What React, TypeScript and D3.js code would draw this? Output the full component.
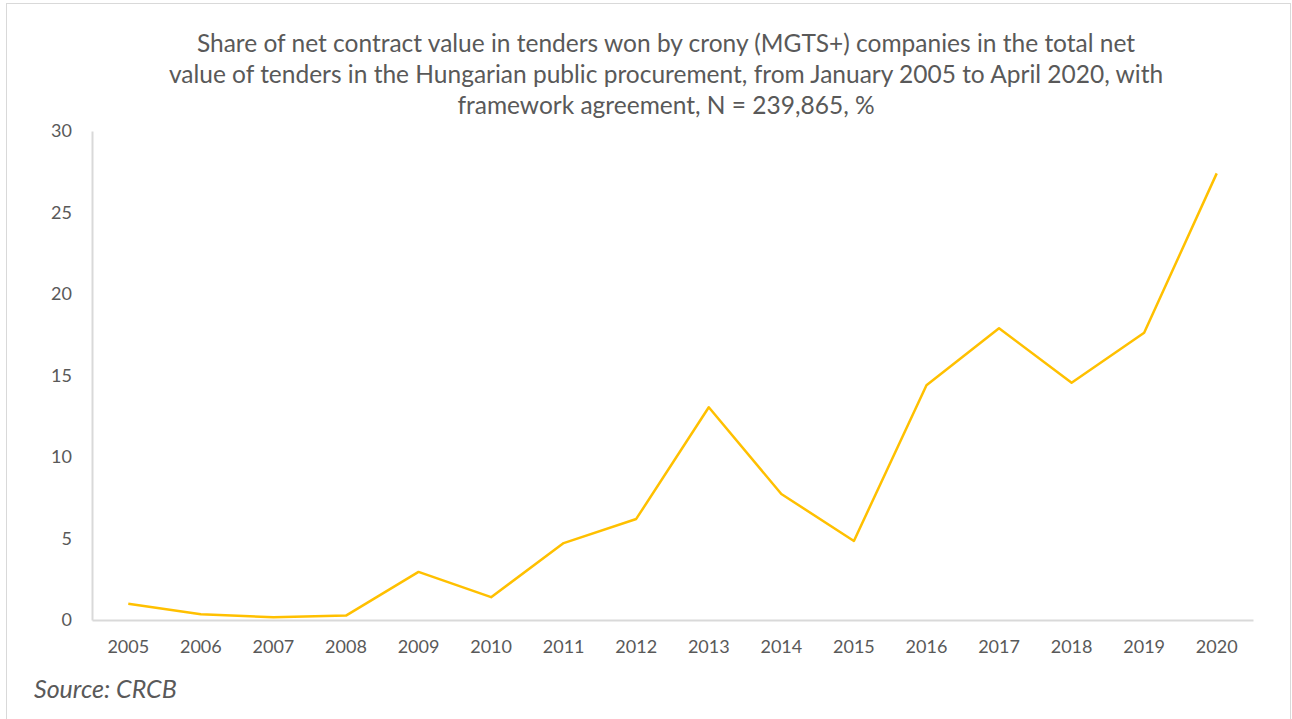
import React, { useEffect, useRef } from "react";
import * as d3 from "d3";

const years = ["2005", "2006", "2007", "2008", "2009", "2010", "2011", "2012", "2013", "2014", "2015", "2016", "2017", "2018", "2019", "2020"];
const shares = [1.0, 0.35, 0.17, 0.27, 2.95, 1.4, 4.72, 6.2, 13.05, 7.73, 4.85, 14.4, 17.9, 14.55, 17.62, 27.4];
const yTicks = [0, 5, 10, 15, 20, 25, 30];
const titleLines = [
  "Share of net contract value in tenders won by crony (MGTS+) companies in the total net",
  "value of tenders in the Hungarian public procurement, from January 2005 to April 2020, with",
  "framework agreement, N = 239,865, %",
];

const FONT = "Lato, 'Open Sans', sans-serif";

function App() {
  const ref = useRef<SVGSVGElement | null>(null);

  useEffect(() => {
    const svg = d3.select(ref.current);
    svg.selectAll("*").remove();

    const width = 1292, height = 719;
    const margin = { top: 131, right: 39, bottom: 99, left: 92 };
    const innerW = width - margin.left - margin.right;
    const innerH = height - margin.top - margin.bottom;

    svg.append("rect")
      .attr("x", 6.5).attr("y", 3.5)
      .attr("width", 1284).attr("height", 720)
      .attr("fill", "#fff").attr("stroke", "#d9d9d9");

    svg.append("text")
      .attr("text-anchor", "middle")
      .attr("font-family", FONT)
      .attr("font-size", 24.5)
      .attr("fill", "#595959")
      .selectAll("tspan")
      .data(titleLines)
      .enter()
      .append("tspan")
      .attr("x", 666)
      .attr("y", (d, i) => 52 + i * 31)
      .text((d) => d);

    const g = svg.append("g").attr("transform", `translate(${margin.left},${margin.top})`);

    const x = d3.scaleBand().domain(years).range([0, innerW]);
    const y = d3.scaleLinear().domain([0, 30]).range([innerH, 0]);

    // axes
    const xAxis = g.append("g")
      .attr("transform", `translate(0,${innerH})`)
      .call(d3.axisBottom(x).tickSize(0).tickPadding(20));
    xAxis.select(".domain").attr("stroke", "#d9d9d9").attr("stroke-width", 2);
    xAxis.selectAll("text")
      .attr("font-family", FONT).attr("font-size", 18).attr("fill", "#595959");

    const yAxis = g.append("g")
      .call(d3.axisLeft(y).tickValues(yTicks).tickSize(0).tickPadding(20));
    yAxis.select(".domain").attr("stroke", "#d9d9d9").attr("stroke-width", 2);
    yAxis.selectAll("text")
      .attr("font-family", FONT).attr("font-size", 18).attr("fill", "#595959");

    const line = d3.line<number>()
      .x((d, i) => (x(years[i]) as number) + x.bandwidth() / 2)
      .y((d) => y(d));

    g.append("path")
      .datum(shares)
      .attr("d", line)
      .attr("fill", "none")
      .attr("stroke", "#ffc000")
      .attr("stroke-width", 2.5)
      .attr("stroke-linejoin", "round");

    svg.append("text")
      .attr("x", 34).attr("y", 698)
      .attr("font-family", FONT)
      .attr("font-size", 25)
      .attr("font-style", "italic")
      .attr("fill", "#595959")
      .text("Source: CRCB");
  }, []);

  return (
    <div style={{ position: "absolute", left: 0, top: 0 }}>
      <svg ref={ref} width={1292} height={719} />
    </div>
  );
}

export default App;
